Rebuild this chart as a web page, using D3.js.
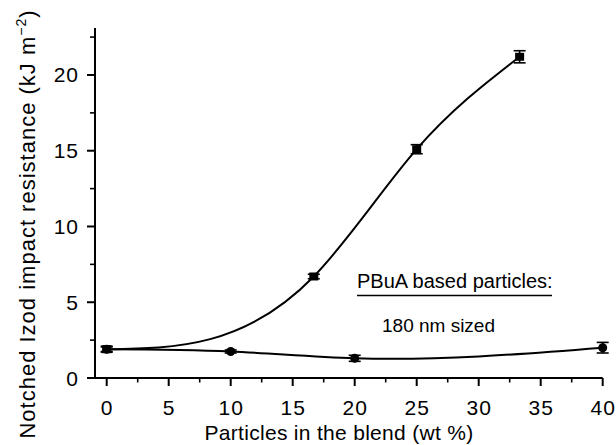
<!DOCTYPE html>
<html><head><meta charset="utf-8">
<script src="https://cdn.jsdelivr.net/npm/d3@7"></script>
<style>body{margin:0;background:#fff}svg{display:block}text{font-family:"Liberation Sans",Arial,sans-serif;fill:#000}</style>
</head><body><svg id="c" width="616" height="445"></svg>
<script>
const xTicks = [0,5,10,15,20,25,30,35,40];
const xMinor = [2.5,7.5,12.5,17.5,22.5,27.5,32.5,37.5];
const yTicks = [0,5,10,15,20];
const yMinor = [2.5,7.5,12.5,17.5,22.5];
const squareX = [0,16.7,25,33.3];
const squareY = [1.9,6.7,15.1,21.2];
const squareErr = [0.2,0.15,0.3,0.4];
const circleX = [0,10,20,40];
const circleY = [1.9,1.75,1.3,2.0];
const circleErr = [0.15,0.1,0.2,0.35];
const xTitle = "Particles in the blend (wt %)";
const yTitle = "Notched Izod impact resistance (kJ m";
const legend1 = "PBuA based particles:";
const legend2 = "180 nm sized";

// natural cubic spline in x (custom d3 curve)
function NaturalX(ctx){ this._context = ctx; }
NaturalX.prototype = {
  areaStart(){}, areaEnd(){},
  lineStart(){ this._x = []; this._y = []; },
  point(x,y){ this._x.push(+x); this._y.push(+y); },
  lineEnd(){
    const X = this._x, Y = this._y, n = X.length, c = this._context;
    if (!n) return;
    c.moveTo(X[0], Y[0]);
    if (n === 2) { c.lineTo(X[1], Y[1]); return; }
    const h = [], s = [];
    for (let i=0;i<n-1;i++){ h[i]=X[i+1]-X[i]; s[i]=(Y[i+1]-Y[i])/h[i]; }
    const m = n-2, a=[], b=[], cc=[], d=[];
    for (let i=0;i<m;i++){
      a[i]=h[i]; b[i]=2*(h[i]+h[i+1]); cc[i]=h[i+1]; d[i]=6*(s[i+1]-s[i]);
    }
    for (let i=1;i<m;i++){ const w=a[i]/b[i-1]; b[i]-=w*cc[i-1]; d[i]-=w*d[i-1]; }
    const Mi = new Array(m);
    for (let i=m-1;i>=0;i--){ Mi[i]=(d[i]-(i<m-1?cc[i]*Mi[i+1]:0))/b[i]; }
    const M = [0, ...Mi, 0];
    const slope = [];
    for (let i=0;i<n-1;i++) slope[i] = s[i] - h[i]*(2*M[i]+M[i+1])/6;
    slope[n-1] = s[n-2] + h[n-2]*(M[n-2]+2*M[n-1])/6;
    for (let i=0;i<n-1;i++){
      const k=h[i]/3;
      c.bezierCurveTo(X[i]+k, Y[i]+slope[i]*k, X[i+1]-k, Y[i+1]-slope[i+1]*k, X[i+1], Y[i+1]);
    }
  }
};
const curveNaturalX = ctx => new NaturalX(ctx);

const svg = d3.select("#c");
const x = d3.scaleLinear().domain([0,40]).range([106.7,602.7]);
const y = d3.scaleLinear().domain([0,23.1]).range([378,28]);

svg.append("line").attr("x1",87).attr("x2",x(40)).attr("y1",y(0)).attr("y2",y(0)).attr("stroke","#000").attr("stroke-width",2);
svg.append("line").attr("x1",95).attr("x2",95).attr("y1",y(0)).attr("y2",y(23.1)).attr("stroke","#000").attr("stroke-width",2);

svg.selectAll(".xt").data(xTicks).enter().append("line")
  .attr("x1",d=>x(d)).attr("x2",d=>x(d)).attr("y1",y(0)).attr("y2",y(0)+8).attr("stroke","#000").attr("stroke-width",2);
svg.selectAll(".xm").data(xMinor).enter().append("line")
  .attr("x1",d=>x(d)).attr("x2",d=>x(d)).attr("y1",y(0)).attr("y2",y(0)+4.5).attr("stroke","#000").attr("stroke-width",1.6);
svg.selectAll(".xl").data(xTicks).enter().append("text")
  .attr("x",d=>x(d)+0.5).attr("y",415).attr("text-anchor","middle").attr("font-size",21).attr("letter-spacing",1).text(d=>d);

svg.selectAll(".yt").data(yTicks).enter().append("line")
  .attr("x1",87).attr("x2",95).attr("y1",d=>y(d)).attr("y2",d=>y(d)).attr("stroke","#000").attr("stroke-width",2);
svg.selectAll(".ym").data(yMinor).enter().append("line")
  .attr("x1",90).attr("x2",95).attr("y1",d=>y(d)).attr("y2",d=>y(d)).attr("stroke","#000").attr("stroke-width",1.6);
svg.selectAll(".yl").data(yTicks).enter().append("text")
  .attr("x",79).attr("y",d=>y(d)+7.5).attr("text-anchor","end").attr("font-size",21).attr("letter-spacing",1).text(d=>d);

svg.append("text").attr("x",339).attr("y",440).attr("text-anchor","middle").attr("font-size",21).attr("letter-spacing",0.3).text(xTitle);
const yt = svg.append("text").attr("transform","translate(35,224) rotate(-90)").attr("text-anchor","middle").attr("font-size",22).attr("letter-spacing",1);
yt.append("tspan").text(yTitle);
yt.append("tspan").attr("font-size",14).attr("dy",-9).text("\u22122");
yt.append("tspan").attr("dy",9).text(")");

const line = d3.line().x(d=>x(d[0])).y(d=>y(d[1])).curve(curveNaturalX);
const sq = squareX.map((v,i)=>[v,squareY[i],squareErr[i]]);
const ci = circleX.map((v,i)=>[v,circleY[i],circleErr[i]]);
svg.append("path").attr("d",line(ci)).attr("fill","none").attr("stroke","#000").attr("stroke-width",2);
svg.append("path").attr("d",line(sq)).attr("fill","none").attr("stroke","#000").attr("stroke-width",2);

function errBars(data){
  const g = svg.append("g").attr("stroke","#000").attr("stroke-width",1.6);
  data.forEach(d=>{
    g.append("line").attr("x1",x(d[0])).attr("x2",x(d[0])).attr("y1",y(d[1]-d[2])).attr("y2",y(d[1]+d[2]));
    [d[1]-d[2],d[1]+d[2]].forEach(v=>g.append("line").attr("x1",x(d[0])-6).attr("x2",x(d[0])+6).attr("y1",y(v)).attr("y2",y(v)));
  });
}
errBars(ci);
errBars(sq);
svg.selectAll(".ci").data(ci).enter().append("circle").attr("cx",d=>x(d[0])).attr("cy",d=>y(d[1])).attr("r",4.5).attr("fill","#000");
svg.selectAll(".sq").data(sq).enter().append("rect").attr("x",d=>x(d[0])-4.5).attr("y",d=>y(d[1])-4).attr("width",9).attr("height",8).attr("fill","#000");

svg.append("text").attr("x",357).attr("y",288).attr("font-size",20).text(legend1);
svg.append("line").attr("x1",357).attr("x2",552).attr("y1",295.5).attr("y2",295.5).attr("stroke","#000").attr("stroke-width",1.5);
svg.append("text").attr("x",382).attr("y",332).attr("font-size",19).text(legend2);
</script></body></html>
